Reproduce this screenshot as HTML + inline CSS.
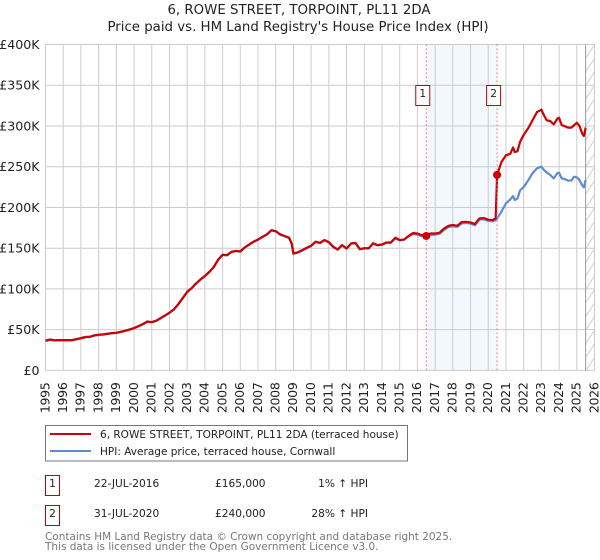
<!DOCTYPE html>
<html lang="en">
<head>
<meta charset="utf-8">
<title>6, ROWE STREET, TORPOINT, PL11 2DA</title>
<style>
html,body{margin:0;padding:0;background:#fff;}
svg{display:block;font-family:"DejaVu Sans","Liberation Sans",sans-serif;}
</style>
</head>
<body>
<svg id="chart" xmlns="http://www.w3.org/2000/svg" width="600" height="560" viewBox="0 0 600 560">
  <defs>
    <pattern id="hatch" patternUnits="userSpaceOnUse" x="585.7" y="44.5" width="9" height="13.6">
      <line x1="0" y1="13.6" x2="9" y2="0" stroke="#cccccc" stroke-width="1"/>
    </pattern>
  </defs>
  <rect width="600" height="560" fill="#ffffff"/>
  <text x="299" y="14" font-size="13.33" text-anchor="middle" fill="#222">6, ROWE STREET, TORPOINT, PL11 2DA</text>
  <text x="298" y="31" font-size="13.33" text-anchor="middle" fill="#222">Price paid vs. HM Land Registry's House Price Index (HPI)</text>
  <g id="bands"></g>
  <g id="grid"></g>
  <g id="series"></g>
  <g id="annotations"></g>
  <g id="axes"></g>

  <g>
    <rect x="45.5" y="425.5" width="362" height="35.5" fill="#fff" stroke="#777" stroke-width="1"/>
    <line x1="50" y1="434" x2="91" y2="434" stroke="#cc0000" stroke-width="2"/>
    <text x="100" y="438" font-size="10.53" fill="#222">6, ROWE STREET, TORPOINT, PL11 2DA (terraced house)</text>
    <line x1="50" y1="451" x2="91" y2="451" stroke="#5b8dd0" stroke-width="2"/>
    <text x="100" y="455" font-size="10.53" fill="#222">HPI: Average price, terraced house, Cornwall</text>
  </g>

  <g font-size="10.6" fill="#222">
    <rect x="45.5" y="475.5" width="14" height="20" fill="#fff" stroke="#c00000" stroke-width="1"/>
    <text x="52.5" y="487" text-anchor="middle">1</text>
    <text x="94" y="487">22-JUL-2016</text>
    <text x="215" y="487">£165,000</text>
    <text x="368" y="487" text-anchor="end">1% ↑ HPI</text>
  </g>
  <g font-size="10.6" fill="#222">
    <rect x="45.5" y="505.5" width="14" height="20" fill="#fff" stroke="#c00000" stroke-width="1"/>
    <text x="52.5" y="517" text-anchor="middle">2</text>
    <text x="94" y="517">31-JUL-2020</text>
    <text x="215" y="517">£240,000</text>
    <text x="368" y="517" text-anchor="end">28% ↑ HPI</text>
  </g>

  <text x="45" y="540" font-size="10.47" fill="#777">Contains HM Land Registry data © Crown copyright and database right 2025.</text>
  <text x="45" y="550" font-size="10.47" fill="#777">This data is licensed under the Open Government Licence v3.0.</text>
</svg>
<script>
const yTickValues = [0, 50, 100, 150, 200, 250, 300, 350, 400];
const yTickLabels = ['£0', '£50K', '£100K', '£150K', '£200K', '£250K', '£300K', '£350K', '£400K'];
const xTickYears = [1995, 1996, 1997, 1998, 1999, 2000, 2001, 2002, 2003, 2004, 2005, 2006, 2007, 2008, 2009, 2010, 2011, 2012, 2013, 2014, 2015, 2016, 2017, 2018, 2019, 2020, 2021, 2022, 2023, 2024, 2025, 2026];
const dates = [
  1995, 1995.25, 1995.5, 1995.75, 1996, 1996.25, 1996.5, 1996.75, 1997, 1997.25, 1997.5, 1997.75,
  1998, 1998.25, 1998.5, 1998.75, 1999, 1999.25, 1999.5, 1999.75, 2000, 2000.25, 2000.5, 2000.75,
  2001, 2001.25, 2001.5, 2001.75, 2002, 2002.25, 2002.5, 2002.75, 2003, 2003.25, 2003.5, 2003.75,
  2004, 2004.25, 2004.5, 2004.75, 2005, 2005.25, 2005.5, 2005.75, 2006, 2006.25, 2006.5, 2006.75,
  2007, 2007.25, 2007.5, 2007.75, 2008, 2008.25, 2008.5, 2008.75, 2008.9, 2009, 2009.25, 2009.5, 2009.75,
  2010, 2010.25, 2010.5, 2010.75, 2011, 2011.25, 2011.5, 2011.75, 2012, 2012.25, 2012.5, 2012.75,
  2013, 2013.25, 2013.5, 2013.75, 2014, 2014.25, 2014.5, 2014.75, 2015, 2015.25, 2015.5, 2015.75,
  2016, 2016.25, 2016.5, 2016.75, 2017, 2017.25, 2017.5, 2017.75, 2018, 2018.25, 2018.5, 2018.75,
  2019, 2019.25, 2019.5, 2019.75, 2020, 2020.25, 2020.42, 2020.5, 2020.75,
  2021, 2021.25, 2021.4, 2021.5, 2021.65, 2021.8, 2022, 2022.25, 2022.5, 2022.75,
  2023, 2023.15, 2023.3, 2023.5, 2023.7, 2023.9, 2024, 2024.15, 2024.3, 2024.5, 2024.7, 2024.85,
  2025, 2025.15, 2025.3, 2025.4, 2025.5
];
const pricePaid = [
  36.4, 38, 37, 37.2, 37.2, 37.2, 37.2, 38.4, 39.7, 41, 41.3, 43,
  43.8, 44.2, 45, 45.8, 46.2, 47.4, 48.7, 50.3, 52, 54.4, 56.9, 60,
  59.3, 61, 64.2, 67.5, 70.8, 75, 81.4, 88.8, 96.5, 101, 106.8, 111.7,
  116, 121, 127, 136, 142, 141.5, 145.6, 146.8, 146, 151, 154.6, 158,
  160.7, 164, 167, 172, 171, 167, 165, 163, 156, 143.5, 145, 147.6, 150.5,
  153, 158, 156.6, 160, 157.5, 151.7, 148.5, 153.8, 149.7, 155.8, 156.6, 148.9,
  150, 150, 156, 153.8, 154.5, 157, 157, 162.8, 160, 160.7, 165, 168.5,
  168, 166, 167, 168, 168, 169, 174, 177.5, 178.5, 177.5, 182, 182.4,
  181.6, 179.6, 186.5, 187, 185, 184.5, 186.5, 240, 256,
  264, 266, 273.6, 268, 269, 280.6, 289, 297, 307, 317,
  320, 313, 307, 306, 302, 309, 310, 301, 300, 298, 298, 301,
  304, 300, 291, 287.6, 298
];
const hpiIndex = [
  36, 37.6, 36.6, 36.8, 36.8, 36.8, 36.8, 38, 39.3, 40.6, 40.9, 42.6,
  43.4, 43.8, 44.6, 45.4, 45.8, 47, 48.3, 49.9, 51.6, 54, 56.5, 59.6,
  58.9, 60.6, 63.8, 67.1, 70.4, 74.6, 81, 88.4, 96.1, 100.6, 106.4, 111.3,
  115.6, 120.6, 126.6, 135.6, 141.6, 141.1, 145.2, 146.4, 145.6, 150.6, 154.2, 157.6,
  160.3, 163.6, 166.6, 171.6, 170.6, 166.6, 164.6, 162.6, 155.6, 143.1, 144.6, 147.2, 150.1,
  152.6, 157.6, 156.2, 159.6, 157.1, 151.3, 148.1, 153.4, 149.3, 155.4, 156.2, 148.5,
  149.6, 149.6, 155.6, 153.4, 154.1, 156.6, 156.6, 162.4, 159.6, 160.3, 164.6, 167.4,
  166.6, 164.6, 165, 166.4, 166.6, 167.6, 172.4, 175.9, 176.9, 176.1, 180.4, 181,
  180.2, 178.2, 185, 185.6, 183.6, 183, 184.5, 186.5, 195,
  205, 210, 214, 209, 211, 221, 225, 233, 242, 248,
  250, 246, 243, 240, 235.6, 242, 242.6, 235.6, 235, 233, 233, 237.7,
  237, 233.6, 227.4, 224.6, 233.6
];
const saleDates = [2016.5, 2020.5];
const salePrices = [165, 240];
const saleNumbers = ['1', '2'];
const propertyEndDate = 2025.5;

const NS = 'http://www.w3.org/2000/svg';
const plotLeft = 45.5, plotRight = 594.5, plotTop = 44.5, plotBottom = 370.4;
function xScale(year) { return plotLeft + (year - 1995) * (plotRight - plotLeft) / 31; }
function yScale(value) { return plotBottom - value * (plotBottom - plotTop) / 400; }
function make(tag, attrs, parent, text) {
  const el = document.createElementNS(NS, tag);
  for (const k in attrs) el.setAttribute(k, attrs[k]);
  if (text !== undefined) el.textContent = text;
  parent.appendChild(el);
  return el;
}
function linePath(xs, ys) {
  return xs.map((d, i) => (i ? 'L' : 'M') + xScale(d).toFixed(2) + ' ' + yScale(ys[i]).toFixed(2)).join(' ');
}

const bands = document.getElementById('bands');
const grid = document.getElementById('grid');
const series = document.getElementById('series');
const annotations = document.getElementById('annotations');
const axes = document.getElementById('axes');

const saleBand = make('rect', {x: xScale(saleDates[0]), y: plotTop, width: xScale(saleDates[1]) - xScale(saleDates[0]), height: plotBottom - plotTop, fill: '#f3f7fe'}, bands);


const futureBand = make('rect', {x: xScale(propertyEndDate), y: plotTop, width: plotRight - xScale(propertyEndDate), height: plotBottom - plotTop, fill: 'url(#hatch)'}, bands);



yTickValues.forEach((v, i) => {
  const gl = make('line', {x1: plotLeft, x2: plotRight, y1: yScale(v), y2: yScale(v), stroke: '#cccccc', 'stroke-width': 1}, grid);
  
  
  const t = make('text', {x: 39.5, y: yScale(v) + 4.5, 'font-size': 12.6, 'text-anchor': 'end', fill: '#222'}, axes, yTickLabels[i]);
  
  
});
xTickYears.forEach((y) => {
  const gl = make('line', {x1: xScale(y), x2: xScale(y), y1: plotTop, y2: plotBottom, stroke: '#cccccc', 'stroke-width': 1}, grid);
  
  
  const bx = xScale(y) + 3.8;
  const t = make('text', {x: bx, y: 382.5, 'font-size': 12.6, 'letter-spacing': -0.35, 'text-anchor': 'end', fill: '#222', transform: 'rotate(-90 ' + bx + ' 382.5)'}, axes, String(y));
  
  
});

const endLine = make('line', {x1: xScale(propertyEndDate), x2: xScale(propertyEndDate), y1: plotTop, y2: plotBottom, stroke: '#999999', 'stroke-width': 1}, grid);



const hpiPath = make('path', {d: linePath(dates, hpiIndex), fill: 'none', stroke: '#5b8dd0', 'stroke-width': 2.2, 'stroke-linejoin': 'round'}, series);


const pricePath = make('path', {d: linePath(dates, pricePaid), fill: 'none', stroke: '#cc0000', 'stroke-width': 2.2, 'stroke-linejoin': 'round'}, series);



saleDates.forEach((d, i) => {
  const x = xScale(d);
  const dl = make('line', {x1: x, x2: x, y1: plotTop, y2: plotBottom, stroke: '#f06a74', 'stroke-width': 1, 'stroke-dasharray': '1.5 2.5'}, annotations);
  
  
  const dot = make('circle', {cx: x, cy: yScale(salePrices[i]), r: 4, fill: '#cc0000'}, annotations);
  
  
  const box = make('rect', {x: x - 10.5, y: 85.5, width: 14, height: 20, fill: '#fff', stroke: '#c00000', 'stroke-width': 1}, annotations);
  
  
  const lbl = make('text', {x: x - 3.5, y: 97, 'font-size': 10.6, 'text-anchor': 'middle', fill: '#222'}, annotations, saleNumbers[i]);
  
  
});
</script>
</body>
</html>
